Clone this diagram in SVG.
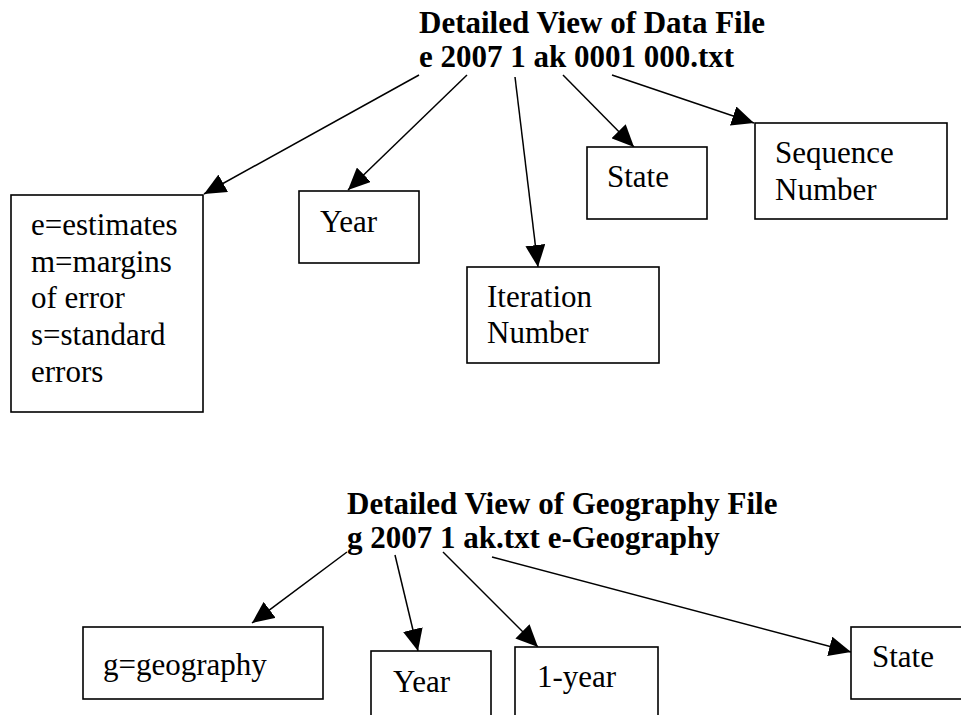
<svg xmlns="http://www.w3.org/2000/svg" width="961" height="715" viewBox="0 0 961 715">
<defs>
<style>
.t{font-family:"Liberation Serif","Times New Roman",serif;font-size:31px;fill:#000}
.h{font-family:"Liberation Serif","Times New Roman",serif;font-size:31px;font-weight:bold;fill:#000}
.b{fill:#fff;stroke:#000;stroke-width:1.6}
.c{stroke:#000;stroke-width:1.5;fill:none;marker-end:url(#ah)}
</style>
<marker id="ah" markerUnits="userSpaceOnUse" markerWidth="22" markerHeight="20" refX="22" refY="10" orient="auto">
<path d="M0,0 L22,10 L0,20 z" fill="#000"/>
</marker>
</defs>
<rect width="961" height="715" fill="#fff"/>
<g id="title-data">
<text class="h" x="419" y="33">Detailed View of Data File</text>
<text class="h" x="419" y="67">e 2007 1 ak 0001 000.txt</text>
</g>
<g id="title-geo">
<text class="h" x="347" y="514">Detailed View of Geography File</text>
<text class="h" x="347" y="548">g 2007 1 ak.txt e-Geography</text>
</g>
<g id="connectors">
<line class="c" x1="419" y1="75" x2="204" y2="194"/>
<line class="c" x1="467" y1="75" x2="348" y2="190"/>
<line class="c" x1="515" y1="77" x2="538" y2="267"/>
<line class="c" x1="563" y1="75" x2="634" y2="147"/>
<line class="c" x1="612" y1="75" x2="754" y2="123"/>
<line class="c" x1="347" y1="552" x2="252" y2="623"/>
<line class="c" x1="395" y1="555" x2="418" y2="651"/>
<line class="c" x1="443" y1="552" x2="538" y2="647"/>
<line class="c" x1="492" y1="557" x2="851" y2="652"/>
</g>
<g id="node-type">
<rect class="b" x="11" y="195" width="192" height="217"/>
<text class="t" x="31" y="235">e=estimates</text>
<text class="t" x="31" y="272">m=margins</text>
<text class="t" x="31" y="308">of error</text>
<text class="t" x="31" y="345">s=standard</text>
<text class="t" x="31" y="382">errors</text>
</g>
<g id="node-year">
<rect class="b" x="299" y="191" width="120" height="72"/>
<text class="t" x="320" y="232">Year</text>
</g>
<g id="node-iteration">
<rect class="b" x="467" y="267" width="192" height="96"/>
<text class="t" x="487" y="307">Iteration</text>
<text class="t" x="487" y="343">Number</text>
</g>
<g id="node-state">
<rect class="b" x="587" y="147" width="120" height="72"/>
<text class="t" x="607" y="187">State</text>
</g>
<g id="node-sequence">
<rect class="b" x="755" y="123" width="192" height="96"/>
<text class="t" x="775" y="163">Sequence</text>
<text class="t" x="775" y="200">Number</text>
</g>
<g id="node-geography">
<rect class="b" x="83" y="627" width="240" height="72"/>
<text class="t" x="103" y="675">g=geography</text>
</g>
<g id="node-geo-year">
<rect class="b" x="371" y="651" width="120" height="80"/>
<text class="t" x="393" y="692">Year</text>
</g>
<g id="node-1year">
<rect class="b" x="515" y="647" width="143" height="84"/>
<text class="t" x="537" y="687">1-year</text>
</g>
<g id="node-geo-state">
<rect class="b" x="851" y="627" width="130" height="72"/>
<text class="t" x="872" y="667">State</text>
</g>
</svg>
